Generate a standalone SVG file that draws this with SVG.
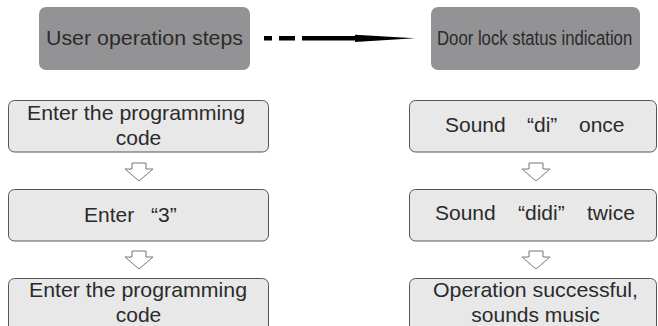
<svg xmlns="http://www.w3.org/2000/svg" width="658" height="326" viewBox="0 0 658 326">
<style>
.head{fill:#939395;}
.step{fill:#e8e8e9;stroke:#555;stroke-width:1;}
.t{font-family:"Liberation Sans",Arial,sans-serif;font-size:21px;fill:#2b2b2b;}
.down{fill:#fff;stroke:#777;stroke-width:1;}
</style>
<rect width="658" height="326" fill="#fff"/>
<g id="node-user-steps">
<rect class="head" x="39" y="7" width="211" height="63" rx="7"/>
<text class="t" x="46" y="45" textLength="197" lengthAdjust="spacingAndGlyphs">User operation steps</text>
</g>
<g id="node-door-status">
<rect class="head" x="431" y="7" width="209" height="63" rx="7"/>
<text class="t" transform="translate(437,45) scale(0.8,1)" x="0" y="0" textLength="244" lengthAdjust="spacingAndGlyphs">Door lock status indication</text>
</g>
<g id="connectors">
<rect x="264" y="36" width="8" height="4.5" fill="#000"/>
<rect x="279" y="36" width="16" height="4.5" fill="#000"/>
<rect x="302" y="36" width="54" height="4.5" fill="#000"/>
<polygon points="355,34.8 415,38.3 355,42" fill="#000"/>
<path class="down" d="M132,163 H146 V169 H153 L139,181 L125,169 H132 Z"/>
<path class="down" d="M132,251 H146 V257 H153 L139,269 L125,257 H132 Z"/>
<path class="down" d="M529,163 H543 V169 H550 L536,181 L522,169 H529 Z"/>
<path class="down" d="M529,251 H543 V257 H550 L536,269 L522,257 H529 Z"/>
</g>
<g id="node-l1">
<rect class="step" x="8.5" y="100.5" width="260" height="51.5" rx="6"/>
<text class="t" x="27" y="120" textLength="218" lengthAdjust="spacingAndGlyphs">Enter the programming</text>
<text class="t" x="138.5" y="145" text-anchor="middle">code</text>
</g>
<g id="node-l2">
<rect class="step" x="8.5" y="189.5" width="260" height="51.5" rx="6"/>
<text class="t" y="222"><tspan x="84">Enter</tspan><tspan x="151">“3”</tspan></text>
</g>
<g id="node-l3">
<rect class="step" x="8.5" y="278.5" width="260" height="60" rx="6"/>
<text class="t" x="29" y="297" textLength="218" lengthAdjust="spacingAndGlyphs">Enter the programming</text>
<text class="t" x="138.5" y="322" text-anchor="middle">code</text>
</g>
<g id="node-r1">
<rect class="step" x="409.5" y="100.5" width="247" height="51.5" rx="6"/>
<text class="t" y="132"><tspan x="445">Sound</tspan><tspan x="527">“di”</tspan><tspan x="579">once</tspan></text>
</g>
<g id="node-r2">
<rect class="step" x="409.5" y="189.5" width="247" height="51.5" rx="6"/>
<text class="t" y="220"><tspan x="435">Sound</tspan><tspan x="518">“didi”</tspan><tspan x="587">twice</tspan></text>
</g>
<g id="node-r3">
<rect class="step" x="409.5" y="278.5" width="247" height="60" rx="6"/>
<text class="t" x="433" y="297" textLength="205" lengthAdjust="spacingAndGlyphs">Operation successful,</text>
<text class="t" x="535.5" y="322" text-anchor="middle">sounds music</text>
</g>
</svg>
